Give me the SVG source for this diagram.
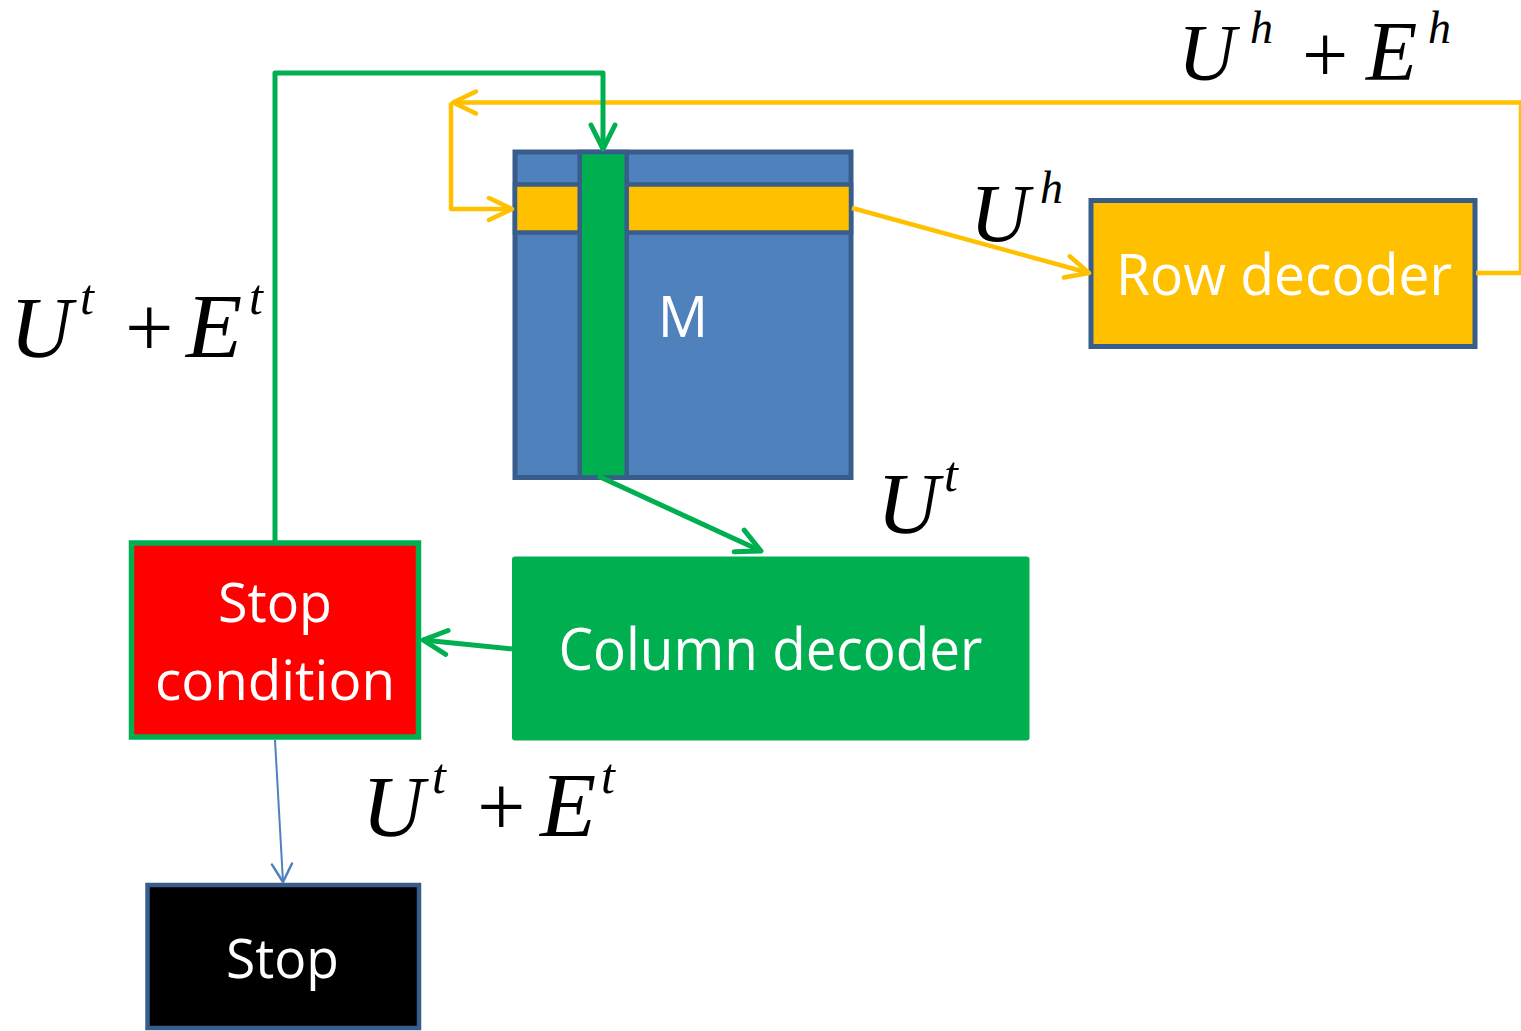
<svg xmlns="http://www.w3.org/2000/svg" width="1521" height="1031" viewBox="0 0 1521 1031">
<style>
.lbl{font-family:"Open Sans","Noto Sans","Liberation Sans",sans-serif;fill:#FFFFFF;text-anchor:middle}
.m{font-family:"Liberation Serif","Times New Roman",serif;font-style:italic;fill:#000000}
.u{font-style:normal}
.yl{fill:none;stroke:#FFC000;stroke-width:4.5;stroke-linejoin:round}
.gl{fill:none;stroke:#00B050;stroke-width:5;stroke-linejoin:round}
.bl{fill:none;stroke:#4F81BD;stroke-width:2}
</style>
<defs>
<marker id="ay" viewBox="-30 -16 36 32" refX="0" refY="0" markerWidth="36" markerHeight="32" orient="auto" markerUnits="userSpaceOnUse">
<path d="M-23,-11 L0,0 L-23,11" fill="none" stroke="#FFC000" stroke-width="4.5" stroke-linecap="round" stroke-linejoin="round"/>
</marker>
<marker id="ag" viewBox="-30 -16 36 32" refX="0" refY="0" markerWidth="36" markerHeight="32" orient="auto" markerUnits="userSpaceOnUse">
<path d="M-24,-12 L0,0 L-24,12" fill="none" stroke="#00B050" stroke-width="5" stroke-linecap="round" stroke-linejoin="round"/>
</marker>
<marker id="ab" viewBox="-22 -14 26 28" refX="0" refY="0" markerWidth="26" markerHeight="28" orient="auto" markerUnits="userSpaceOnUse">
<path d="M-18,-10 L0,0 L-18,10" fill="none" stroke="#4F81BD" stroke-width="2.5" stroke-linecap="round" stroke-linejoin="round"/>
</marker>
</defs>

<g id="matrix">
<rect x="515" y="152" width="336" height="325.5" fill="#4F81BD" stroke="#385D8A" stroke-width="5"/>
<rect x="515" y="184.5" width="336" height="48" fill="#FFC000" stroke="#385D8A" stroke-width="4.5"/>
<rect x="579.7" y="152" width="47" height="325.5" fill="#00B050" stroke="#385D8A" stroke-width="4.5"/>
<text class="lbl" x="683" y="337" font-size="56">M</text>
</g>

<g id="row-decoder">
<rect x="1091" y="200.5" width="384" height="146" fill="#FFC000" stroke="#385D8A" stroke-width="5"/>
<text class="lbl" x="1284" y="295" font-size="56" textLength="336" lengthAdjust="spacingAndGlyphs">Row decoder</text>
</g>

<g id="column-decoder">
<rect x="512" y="556.5" width="517.5" height="184" rx="3" fill="#00B050"/>
<text class="lbl" x="770.5" y="670" font-size="58" textLength="424" lengthAdjust="spacingAndGlyphs">Column decoder</text>
</g>

<g id="stop-condition">
<rect x="131.5" y="543" width="287" height="194" fill="#FF0000" stroke="#00B050" stroke-width="5.5"/>
<text class="lbl" x="275" y="622" font-size="55" textLength="114" lengthAdjust="spacingAndGlyphs">Stop</text>
<text class="lbl" x="275" y="700" font-size="55" textLength="240" lengthAdjust="spacingAndGlyphs">condition</text>
</g>

<g id="stop">
<rect x="147.5" y="885" width="271.5" height="143" fill="#000000" stroke="#385D8A" stroke-width="4.5"/>
<text class="lbl" x="282.5" y="978" font-size="55" textLength="113" lengthAdjust="spacingAndGlyphs">Stop</text>
</g>

<g id="connectors">
<path class="yl" d="M1476,273 H1521 V102.5 H453" marker-end="url(#ay)"/>
<path class="yl" d="M451,102.5 V209 H512" marker-end="url(#ay)"/>
<path class="yl" d="M852,208 L1089,273" marker-end="url(#ay)"/>
<path class="gl" d="M275,541 V73 H603 V149" marker-end="url(#ag)"/>
<path class="gl" d="M598,476 L761,551" marker-end="url(#ag)"/>
<path class="gl" d="M512,649 L423,640" marker-end="url(#ag)"/>
<path class="bl" d="M275,740 L283,882" marker-end="url(#ab)"/>
</g>

<g id="labels">
<text class="m" font-size="86" y="357"><tspan x="10">U</tspan><tspan font-size="50" x="80" y="314">t</tspan><tspan class="u" x="125" y="357">+</tspan><tspan font-size="92" x="186" y="357">E</tspan><tspan font-size="50" x="249" y="314">t</tspan></text>
<text class="m" font-size="86" y="836"><tspan x="362">U</tspan><tspan font-size="50" x="432" y="793">t</tspan><tspan class="u" x="477" y="836">+</tspan><tspan font-size="92" x="540" y="836">E</tspan><tspan font-size="50" x="601" y="793">t</tspan></text>
<text class="m" font-size="86" y="533"><tspan x="877">U</tspan><tspan font-size="50" x="944" y="491">t</tspan></text>
<text class="m" font-size="82" y="241"><tspan x="970">U</tspan><tspan font-size="46" x="1040" y="203">h</tspan></text>
<text class="m" font-size="80" y="80"><tspan x="1178">U</tspan><tspan font-size="46" x="1250" y="43">h</tspan><tspan class="u" font-size="82" x="1302" y="82">+</tspan><tspan font-size="84" x="1366" y="80">E</tspan><tspan font-size="46" x="1428" y="43">h</tspan></text>
</g>
</svg>
